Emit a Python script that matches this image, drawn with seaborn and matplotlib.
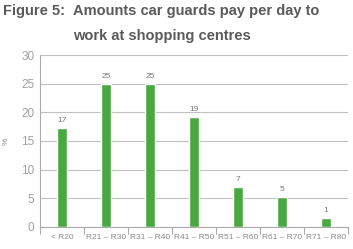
import matplotlib
matplotlib.use("Agg")
import matplotlib.pyplot as plt
import seaborn as sns
import numpy as np
import pandas as pd

categories = ["< R20", "R21 – R30", "R31 – R40", "R41 – R50", "R51 – R60", "R61 – R70", "R71 – R80"]
values = [17.3, 25.0, 25.0, 19.2, 7.0, 5.2, 1.5]
labels = ["17", "25", "25", "19", "7", "5", "1"]
yticks = [0, 5, 10, 15, 20, 25, 30]

sns.set_theme(style="white")
plt.rcParams['font.family'] = ['Liberation Sans', 'DejaVu Sans']

fig = plt.figure(figsize=(3.53, 2.49), dpi=100)
ax = fig.add_axes([0.113, 0.0896, 0.873, 0.689])

df = pd.DataFrame({"cat": categories, "val": values})
sns.barplot(data=df, x="cat", y="val", color="#4aa843", saturation=1, width=0.23, ax=ax)

for i, (v, l) in enumerate(zip(values, labels)):
    ax.text(i, v + 0.7, l, ha="center", va="bottom", fontsize=6, color="#777777")

ax.set_ylim(0, 30)
ax.set_xlim(-0.5, 6.5)
ax.set_yticks(yticks)
ax.set_yticklabels([str(t) for t in yticks], fontsize=8.5, color="#a0a0a0")
ax.yaxis.grid(True, color="#c0c0c0", linewidth=0.8)
ax.set_axisbelow(True)
ax.tick_params(axis="y", length=0, pad=4)
ax.tick_params(axis="x", which="major", length=0, pad=5, labelsize=6, labelcolor="#888888")
ax.set_xticks(range(len(categories)))
ax.set_xticklabels(categories)
ax.set_xticks(np.arange(-0.5, 7, 1.0), minor=True)
ax.tick_params(axis="x", which="minor", length=5, color="#aaaaaa", width=0.8, direction="out", bottom=True)
ax.set_xlabel("")
ax.set_ylabel("%", fontsize=6, color="#888888", labelpad=8)

for s in ["top", "right"]:
    ax.spines[s].set_visible(False)
for s in ["left", "bottom"]:
    ax.spines[s].set_color("#aaaaaa")
    ax.spines[s].set_linewidth(0.8)

fig.text(0.008, 0.955, "Figure 5:", fontsize=10.5, fontweight="bold", color="#5a5a5a", va="center", ha="left")
fig.text(0.207, 0.955, "Amounts car guards pay per day to", fontsize=10.5, fontweight="bold", color="#5a5a5a", va="center", ha="left")
fig.text(0.207, 0.855, "work at shopping centres", fontsize=10.5, fontweight="bold", color="#5a5a5a", va="center", ha="left")

fig.savefig("out.png", dpi=100)
